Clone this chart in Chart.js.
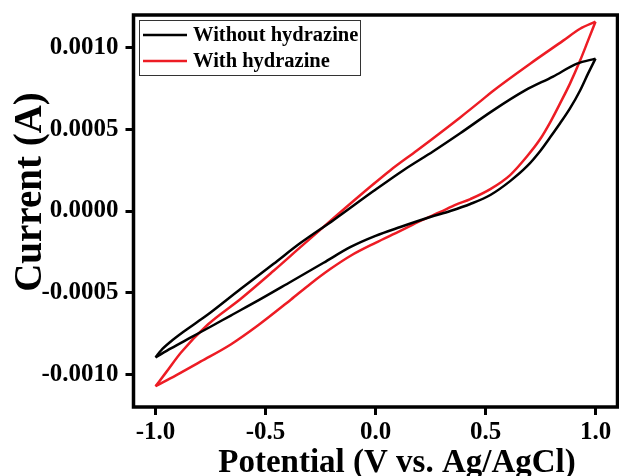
<!DOCTYPE html>
<html>
<head>
<meta charset="utf-8">
<script src="https://cdn.jsdelivr.net/npm/chart.js@4.4.1/dist/chart.umd.min.js"></script>
<style>
  html, body { margin: 0; padding: 0; background: #fff; }
</style>
</head>
<body>
<canvas id="cvChart" width="619" height="476"></canvas>
<script>
// potential (V) and current (A); each loop split into forward / reverse sweep
const withoutFwdV = [-1.0, -0.975, -0.930, -0.871, -0.807, -0.762, -0.612, -0.463, -0.340, -0.190, -0.009, 0.127, 0.263, 0.385, 0.535, 0.680, 0.807, 0.916, 1.0];
const withoutFwdI = [-8.96e-4, -8.54e-4, -7.99e-4, -7.38e-4, -6.77e-4, -6.34e-4, -4.76e-4, -3.23e-4, -1.95e-4, -0.55e-4, 1.22e-4, 2.50e-4, 3.66e-4, 4.76e-4, 6.16e-4, 7.38e-4, 8.23e-4, 9.02e-4, 9.33e-4];
const withoutRevV = [1.0, 0.966, 0.930, 0.884, 0.839, 0.794, 0.748, 0.689, 0.612, 0.522, 0.431, 0.340, 0.249, 0.113, 0.0, -0.113, -0.236, -0.385, -0.535, -0.658, -0.748, -0.839, -0.930, -1.0];
const withoutRevI = [9.33e-4, 8.41e-4, 7.38e-4, 6.28e-4, 5.37e-4, 4.51e-4, 3.66e-4, 2.74e-4, 1.83e-4, 0.98e-4, 0.43e-4, 0.0, -0.37e-4, -0.98e-4, -1.52e-4, -2.20e-4, -3.17e-4, -4.33e-4, -5.49e-4, -6.40e-4, -7.07e-4, -7.74e-4, -8.41e-4, -8.96e-4];

const withFwdV = [-1.0, -0.952, -0.884, -0.762, -0.612, -0.463, -0.340, -0.190, -0.009, 0.068, 0.190, 0.385, 0.476, 0.531, 0.703, 0.853, 0.930, 1.0];
const withFwdI = [-10.73e-4, -9.88e-4, -8.66e-4, -6.95e-4, -5.37e-4, -3.66e-4, -2.20e-4, -0.43e-4, 1.65e-4, 2.50e-4, 3.72e-4, 5.73e-4, 6.71e-4, 7.32e-4, 9.02e-4, 10.43e-4, 11.16e-4, 11.59e-4];
const withRevV = [1.0, 0.966, 0.930, 0.884, 0.839, 0.794, 0.748, 0.689, 0.612, 0.522, 0.431, 0.363, 0.295, 0.204, 0.113, 0.0, -0.113, -0.204, -0.295, -0.385, -0.535, -0.658, -0.794, -0.907, -1.0];
const withRevI = [11.59e-4, 10.43e-4, 9.21e-4, 7.80e-4, 6.59e-4, 5.43e-4, 4.39e-4, 3.35e-4, 2.20e-4, 1.34e-4, 0.73e-4, 0.37e-4, -0.06e-4, -0.61e-4, -1.22e-4, -1.95e-4, -2.74e-4, -3.54e-4, -4.45e-4, -5.43e-4, -7.01e-4, -8.17e-4, -9.21e-4, -10.06e-4, -10.73e-4];

const seriesNames = ['Without hydrazine', 'With hydrazine'];
const xTicks = [-1.0, -0.5, 0.0, 0.5, 1.0];
const yTicks = [-0.0010, -0.0005, 0.0, 0.0005, 0.0010];
const xTitle = 'Potential (V vs. Ag/AgCl)';
const yTitle = 'Current (A)';

const BLACK = '#000000';
const RED = '#ed1c24';
const serif = "'Liberation Serif', 'Times New Roman', serif";

function pts(xs, ys) {
  return xs.map((x, i) => ({ x: x, y: ys[i] }));
}

// frame round the plot area, axis titles and the boxed legend
const framePlugin = {
  id: 'frame',
  afterDraw(chart) {
    const { ctx, chartArea } = chart;
    ctx.save();
    ctx.strokeStyle = '#000';
    ctx.lineWidth = 3.5;
    ctx.strokeRect(chartArea.left, chartArea.top, chartArea.right - chartArea.left, chartArea.bottom - chartArea.top);

    // axis titles
    ctx.fillStyle = '#000';
    ctx.textAlign = 'center';
    ctx.textBaseline = 'alphabetic';
    ctx.font = 'bold 33px ' + serif;
    ctx.fillText(xTitle, 397, 472);
    ctx.save();
    ctx.translate(41, 192);
    ctx.rotate(-Math.PI / 2);
    ctx.font = 'bold 39px ' + serif;
    ctx.fillText(yTitle, 0, 0);
    ctx.restore();

    // legend
    ctx.lineWidth = 1;
    ctx.strokeStyle = '#333';
    ctx.strokeRect(139.5, 20.5, 221, 55);
    const items = chart.data.datasets.filter(d => d.label);
    ctx.font = 'bold 20.5px ' + serif;
    ctx.textAlign = 'left';
    ctx.textBaseline = 'middle';
    items.forEach((d, i) => {
      const y = 35 + i * 26;
      ctx.beginPath();
      ctx.strokeStyle = d.borderColor;
      ctx.lineWidth = 2.5;
      ctx.moveTo(143, y);
      ctx.lineTo(187, y);
      ctx.stroke();
      ctx.fillText(d.label, 193, y + 1);
    });
    ctx.restore();
  }
};

const ctx = document.getElementById('cvChart').getContext('2d');
const cvChart = new Chart(ctx, {
  type: 'scatter',
  data: {
    datasets: [
      { label: seriesNames[0], data: pts(withoutFwdV, withoutFwdI), borderColor: BLACK },
      { data: pts(withoutRevV, withoutRevI), borderColor: BLACK },
      { label: seriesNames[1], data: pts(withFwdV, withFwdI), borderColor: RED },
      { data: pts(withRevV, withRevI), borderColor: RED }
    ]
  },
  options: {
    responsive: false,
    animation: false,
    showLine: true,
    layout: { padding: { top: 15, right: 1.5, left: 0, bottom: 0 } },
    elements: {
      point: { radius: 0 },
      line: { borderWidth: 2.5, cubicInterpolationMode: 'monotone', fill: false }
    },
    plugins: {
      legend: { display: false },
      tooltip: { enabled: false }
    },
    scales: {
      x: {
        type: 'linear',
        min: -1.1,
        max: 1.1,
        afterFit: s => { s.height = 69; s.paddingLeft = 0; s.paddingRight = 0; },
        afterBuildTicks: s => { s.ticks = xTicks.map(v => ({ value: v })); },
        ticks: {
          callback: v => v.toFixed(1),
          font: { family: serif, size: 25, weight: 'bold' },
          color: '#000',
          padding: 3,
          maxRotation: 0,
          autoSkip: false
        },
        grid: { drawOnChartArea: false, tickLength: 8, tickWidth: 3, tickColor: '#000' },
        border: { display: false }
      },
      y: {
        type: 'linear',
        min: -0.0012,
        max: 0.0012,
        afterFit: s => { s.width = 133.5; s.paddingTop = 0; s.paddingBottom = 0; },
        afterBuildTicks: s => { s.ticks = yTicks.map(v => ({ value: v })); },
        ticks: {
          callback: v => v.toFixed(4),
          font: { family: serif, size: 25, weight: 'bold' },
          color: '#000',
          padding: 7,
          autoSkip: false
        },
        grid: { drawOnChartArea: false, tickLength: 8, tickWidth: 3, tickColor: '#000' },
        border: { display: false }
      }
    }
  },
  plugins: [framePlugin]
});
</script>
</body>
</html>
